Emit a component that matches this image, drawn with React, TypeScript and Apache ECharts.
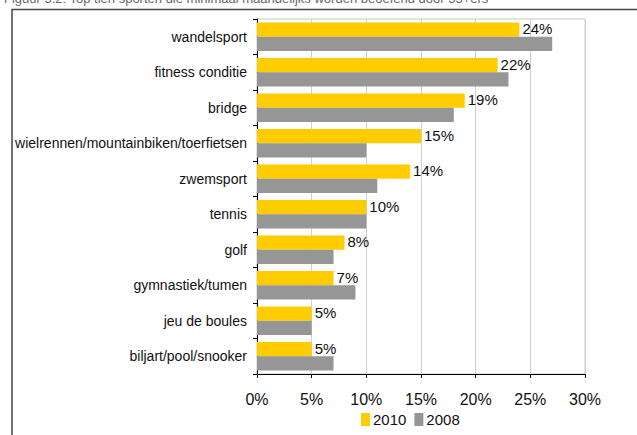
import React, { useEffect, useRef } from "react";
import * as echarts from "echarts";

const categories = [
  "wandelsport",
  "fitness conditie",
  "bridge",
  "wielrennen/mountainbiken/toerfietsen",
  "zwemsport",
  "tennis",
  "golf",
  "gymnastiek/tumen",
  "jeu de boules",
  "biljart/pool/snooker",
];
const values2010 = [24, 22, 19, 15, 14, 10, 8, 7, 5, 5];
const values2008 = [27, 23, 18, 10, 11, 10, 7, 9, 5, 7];
const seriesNames = ["2010", "2008"];
const titleText =
  "Figuur 5.2: Top tien sporten die minimaal maandelijks worden beoefend door 55+ers";

export default function App() {
  const ref = useRef<HTMLDivElement>(null);
  useEffect(() => {
    if (!ref.current) return;
    const chart = echarts.init(ref.current, null, { renderer: "svg" });
    const font = "'Liberation Sans', Arial, sans-serif";
    chart.setOption({
      animation: false,
      backgroundColor: "#ffffff",
      textStyle: { fontFamily: font },
      graphic: [
        {
          type: "text",
          left: 4,
          top: -8,
          style: { text: titleText, fill: "#666", fontSize: 13, fontFamily: font },
        },
        {
          type: "polyline",
          shape: { points: [[12, 440], [12, 9.5], [640, 9.5]] },
          style: { stroke: "#444", lineWidth: 1.5, fill: "none" },
        },
      ],
      legend: {
        bottom: 3,
        left: 356,
        itemWidth: 9,
        itemHeight: 13,
        itemGap: 8,
        icon: "rect",
        textStyle: { fontSize: 15, color: "#111", padding: [0, 0, 0, -2] },
        data: seriesNames,
      },
      grid: {
        left: 257,
        right: 52,
        top: 19,
        bottom: 61,
        show: true,
        borderColor: "#c8c8c8",
        borderWidth: 1,
      },
      xAxis: {
        type: "value",
        min: 0,
        max: 30,
        interval: 5,
        axisLine: { show: true, lineStyle: { color: "#000", width: 1 } },
        axisTick: { show: true, length: 4, lineStyle: { color: "#000" } },
        axisLabel: { formatter: "{value}%", fontSize: 16, color: "#111", margin: 17 },
        splitLine: { show: true, lineStyle: { color: "#d0d0d0", width: 1 } },
      },
      yAxis: {
        type: "category",
        inverse: true,
        data: categories,
        axisLine: { show: true, lineStyle: { color: "#000", width: 1 } },
        axisTick: { show: true, length: 4, lineStyle: { color: "#000" } },
        axisLabel: { fontSize: 14, color: "#111", margin: 10 },
      },
      series: [
        {
          name: seriesNames[0],
          type: "bar",
          data: values2010,
          itemStyle: { color: "#FFCC00" },
          barGap: "0%",
          barCategoryGap: "20%",
          label: {
            show: true,
            position: "right",
            formatter: "{c}%",
            fontSize: 15,
            color: "#111",
            distance: 3,
            offset: [0, -1],
          },
        },
        {
          name: seriesNames[1],
          type: "bar",
          data: values2008,
          itemStyle: { color: "#969696" },
          barGap: "0%",
          barCategoryGap: "20%",
        },
      ],
    });
    return () => chart.dispose();
  }, []);
  return (
    <div
      ref={ref}
      style={{ position: "absolute", left: 0, top: 0, width: 637, height: 435 }}
    />
  );
}
